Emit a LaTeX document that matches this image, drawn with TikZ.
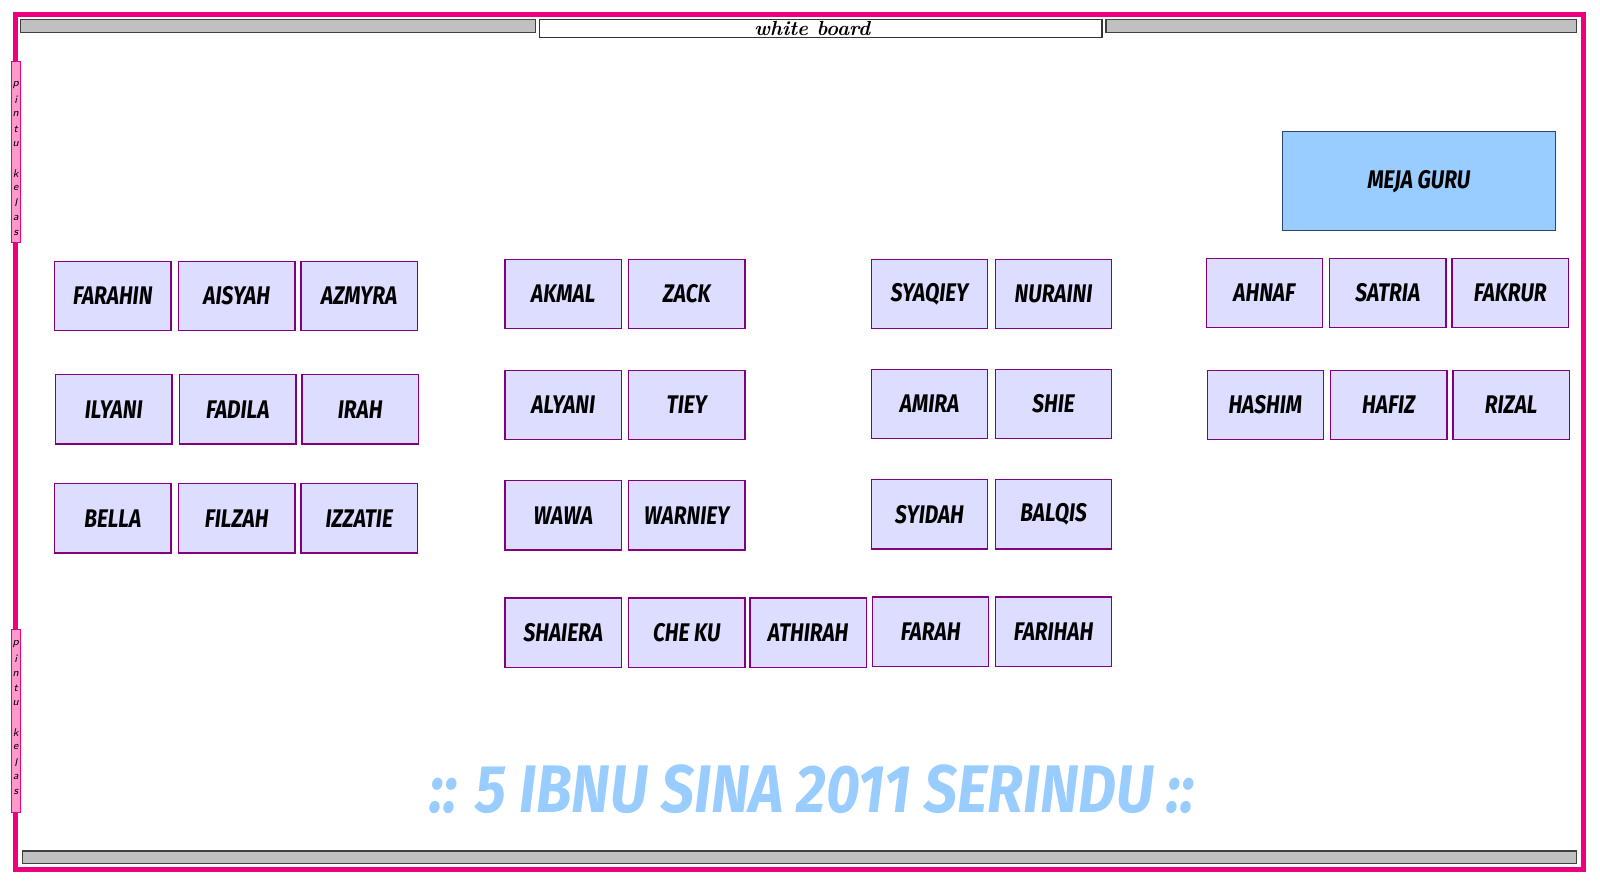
\documentclass[tikz,border=0pt]{standalone}
\usepackage{fontspec}
\newfontfamily\deskfont[FakeStretch=0.82]{Fira Sans}
\newfontfamily\titlefont[FakeStretch=0.87]{Fira Sans}
\definecolor{wallpink}{RGB}{236,0,127}
\definecolor{doorpink}{RGB}{255,153,204}
\definecolor{deskfill}{RGB}{221,221,255}
\definecolor{deskline}{RGB}{128,0,128}
\definecolor{mejablue}{RGB}{153,204,255}
\definecolor{mejaline}{RGB}{40,70,120}
\definecolor{bargray}{RGB}{192,192,192}
\tikzset{
  desk/.style = {draw = deskline, fill = deskfill, line width = 0.6pt, minimum width = 57pt, minimum height = 34pt, inner sep = 0, font = \deskfont\bfseries\itshape\fontsize{12.5}{12.5}\selectfont},
  bar/.style = {draw = black!75, fill = bargray, line width = 0.7pt},
  door/.style = {draw = wallpink, fill = doorpink, line width = 0.5pt, minimum width = 4.5pt, inner sep = 0},
  doorletter/.style = {inner sep = 0, font = \sffamily\itshape\fontsize{5.5}{5.5}\selectfont}
}
\begin{document}
\begin{tikzpicture}[x = 0.5pt, y = -0.5pt]
\useasboundingbox (0,0) rectangle (1568,864);
\draw [wallpink, line width = 2.5pt] (15,14) rectangle (1552,852);
\draw [bar] (20,19) rectangle (525,32);
\draw [bar] (1084,19) rectangle (1545,32);
\draw [bar] (22,834) rectangle (1545,846);
\node[draw = black!80, fill = white, line width = 0.6pt, minimum width = 275.5pt, minimum height = 9pt, inner sep = 0](board) at (804.5,28){};
\node[inner sep = 0, font = \bfseries\itshape\fontsize{10}{10}\selectfont](boardtext) at (796,28){white board};
\node[door, minimum height = 89pt](doortop) at (15.5,149){};
\node[door, minimum height = 89.5pt](doorbottom) at (15.5,706.5){};
\foreach \c [count = \i] in {p,i,n,t,u,,k,e,l,a,s}{
  \node[doorletter](dt\i) at (15.5,{68.5+14.5*\i}){\c};
  \node[doorletter](db\i) at (15.5,{616.5+14.5*\i}){\c};
}
\node[draw = mejaline, fill = mejablue, line width = 0.6pt, minimum width = 133.5pt, minimum height = 48.5pt, font = \deskfont\bfseries\itshape\fontsize{12.5}{12.5}\selectfont](meja) at (1390.5,177.5){MEJA GURU};
\foreach \id/\x/\y/\txt in {
  farahin/110.5/290/FARAHIN, aisyah/232/290/AISYAH, azmyra/352/290/AZMYRA,
  ilyani/111.5/401/ILYANI, fadila/233/401/FADILA, irah/353/401/IRAH,
  bella/110.5/508/BELLA, filzah/232/508/FILZAH, izzatie/352/508/IZZATIE,
  akmal/552/288/AKMAL, zack/673/288/ZACK,
  alyani/552/397/ALYANI, tiey/673/397/TIEY,
  wawa/552/505/WAWA, warniey/673/505/WARNIEY,
  shaiera/552/620/SHAIERA, cheku/673/620/CHE KU, athirah/792/620/ATHIRAH, farah/912/619/FARAH, farihah/1032.5/619/FARIHAH,
  syaqiey/911/288/SYAQIEY, nuraini/1032.5/288/NURAINI,
  amira/911/396/AMIRA, shie/1032.5/396/SHIE,
  syidah/911/504/SYIDAH, balqis/1032.5/504/BALQIS,
  ahnaf/1239/287/AHNAF, satria/1360/287/SATRIA, fakrur/1480/287/FAKRUR,
  hashim/1240/397/HASHIM, hafiz/1361/397/HAFIZ, rizal/1481/397/RIZAL}
  \node[desk](\id) at (\x,\y){\txt};
\node[text = mejablue, font = \titlefont\bfseries\itshape\fontsize{33}{33}\selectfont](title) at (796,773){:: 5 IBNU SINA 2011 SERINDU ::};
\end{tikzpicture}
\end{document}
